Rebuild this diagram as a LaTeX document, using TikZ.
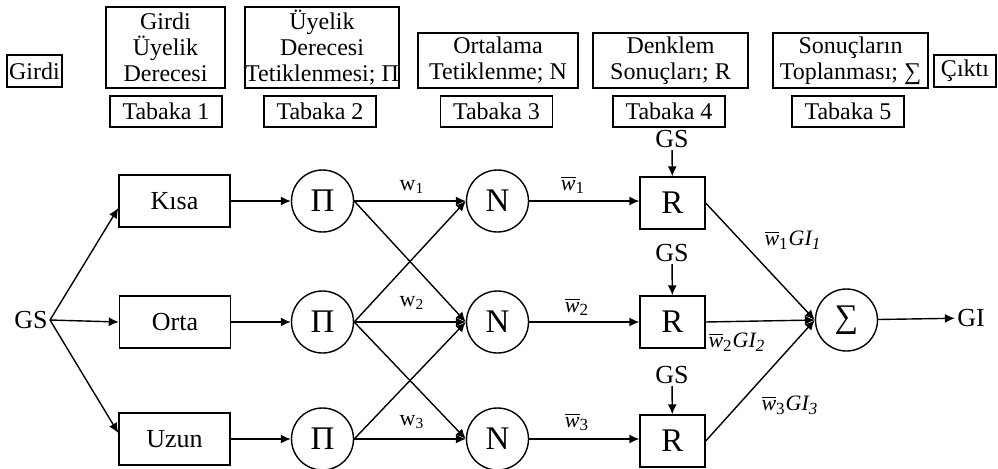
\documentclass[tikz,border=0pt]{standalone}
\usepackage{fontspec}
\setmainfont{Liberation Serif}
\usetikzlibrary{arrows.meta}
\newcommand{\wbar}[1]{$\overline{\mbox{\itshape w}}_{\mbox{\fontsize{8.5}{8.5}\selectfont #1}}$}
\newcommand{\wgi}[1]{$\overline{\mbox{\itshape w}}_{\mbox{\fontsize{8.5}{8.5}\selectfont #1}}\mbox{\itshape GI}_{\mbox{\fontsize{8.5}{8.5}\selectfont\itshape #1}}$}
\tikzset{
  lbox/.style={draw, line width=0.7pt, inner sep=0pt, align=center, font=\fontsize{12}{13}\selectfont},
  tbox/.style={lbox, minimum width=56pt, minimum height=15.5pt},
  fbox/.style={draw, line width=0.7pt, inner sep=0pt, minimum width=55.5pt, minimum height=26pt, font=\fontsize{13}{15}\selectfont},
  rbox/.style={draw, line width=0.7pt, inner sep=0pt, minimum width=32.5pt, minimum height=26pt, font=\fontsize{16.5}{18}\selectfont},
  neur/.style={draw, circle, line width=0.7pt, inner sep=0pt, minimum size=31pt, font=\fontsize{16.5}{18}\selectfont},
  txt/.style={inner sep=1pt, font=\fontsize{13}{15}\selectfont},
  lab/.style={inner sep=0pt, font=\fontsize{11}{12}\selectfont},
  arr/.style={-{Latex[length=5pt,width=4.5pt]}, line width=0.7pt}
}
\begin{document}
\begin{tikzpicture}[x=0.5pt, y=-0.5pt]
\useasboundingbox (0,0) rectangle (998,468);
% top row
\node[lbox, minimum width=27.5pt, minimum height=16pt] (girdi) at (34.5,71) {Girdi};
\node[lbox, minimum width=59.5pt, minimum height=40.5pt] (h1) at (165.5,47.5) {Girdi\\Üyelik\\Derecesi};
\node[tbox] (t1) at (166,111.5) {Tabaka 1};
\node[lbox, minimum width=75pt, minimum height=40.5pt] (h2) at (322,47.5) {Üyelik\\Derecesi\\Tetiklenmesi; Π};
\node[tbox] (t2) at (320,111.5) {Tabaka 2};
\node[lbox, minimum width=80pt, minimum height=27.5pt] (h3) at (498,60.5) {Ortalama\\Tetiklenme; N};
\node[tbox] (t3) at (496.5,111.5) {Tabaka 3};
\node[lbox, minimum width=77.5pt, minimum height=27.5pt] (h4) at (670.5,60.5) {Denklem\\Sonuçları; R};
\node[tbox] (t4) at (669,111.5) {Tabaka 4};
\node[lbox, minimum width=77.5pt, minimum height=27.5pt] (h5) at (850.5,60.5) {Sonuçların\\Toplanması; ∑};
\node[tbox] (t5) at (848,111.5) {Tabaka 5};
\node[lbox, minimum width=31pt, minimum height=16pt] (cikti) at (965,71) {Çıktı};
% network
\node[txt] (gs) at (31,320) {GS};
\node[fbox] (kisa) at (174.5,201) {Kısa};
\node[fbox] (orta) at (175,322) {Orta};
\node[fbox] (uzun) at (174.5,439) {Uzun};
\node[neur] (p1) at (322.5,201) {Π};
\node[neur] (p2) at (322.5,322) {Π};
\node[neur] (p3) at (322.5,439) {Π};
\node[neur] (n1) at (497.5,201) {N};
\node[neur] (n2) at (497.5,322) {N};
\node[neur] (n3) at (497.5,439) {N};
\node[rbox] (r1) at (672.5,203) {R};
\node[rbox] (r2) at (672.5,322) {R};
\node[rbox] (r3) at (672.5,441) {R};
\node[neur] (s) at (846.5,320) {∑};
\node[txt] (gi) at (971,318) {GI};
\node[txt] (g1) at (672,139) {GS};
\node[txt] (g2) at (672,253) {GS};
\node[txt] (g3) at (672,375) {GS};
% connectors
\draw[arr] (gs.east) -- ([yshift=-3.5pt]kisa.west);
\draw[arr] (gs.east) -- (orta.west);
\draw[arr] (gs.east) -- ([yshift=3pt]uzun.west);
\draw[arr] (kisa) -- (p1);
\draw[arr] (orta) -- (p2);
\draw[arr] (uzun) -- (p3);
\draw[arr] (p1.east) -- (n1.west);
\draw[arr] (p2.east) -- (n2.west);
\draw[arr] (p3.east) -- (n3.west);
\draw[arr] (p1.east) -- (n2.west);
\draw[arr] (p2.east) -- (n1.west);
\draw[arr] (p2.east) -- (n3.west);
\draw[arr] (p3.east) -- (n2.west);
\draw[arr] (n1.east) -- (n1.east -| r1.west);
\draw[arr] (n2.east) -- (r2.west);
\draw[arr] (n3.east) -- (n3.east -| r3.west);
\draw[arr] (g1) -- (r1);
\draw[arr] (g2) -- (r2);
\draw[arr] (g3) -- (r3);
\draw[arr] (r1.east) -- (s.west);
\draw[arr] (r2.east) -- (s.west);
\draw[arr] (r3.east) -- (s.west);
\draw[arr] (s) -- (gi);
% labels
\node[lab] (lw1) at (412,187) {w\textsubscript{1}};
\node[lab] (lw2) at (412,303) {w\textsubscript{2}};
\node[lab] (lw3) at (412,422) {w\textsubscript{3}};
\node[lab] (lb1) at (573,185) {\wbar{1}};
\node[lab] (lb2) at (577,307) {\wbar{2}};
\node[lab] (lb3) at (577,422) {\wbar{3}};
\node[lab] (lg1) at (793,240) {\wgi{1}};
\node[lab] (lg2) at (737,342) {\wgi{2}};
\node[lab] (lg3) at (790,405) {\wgi{3}};
\end{tikzpicture}
\end{document}
